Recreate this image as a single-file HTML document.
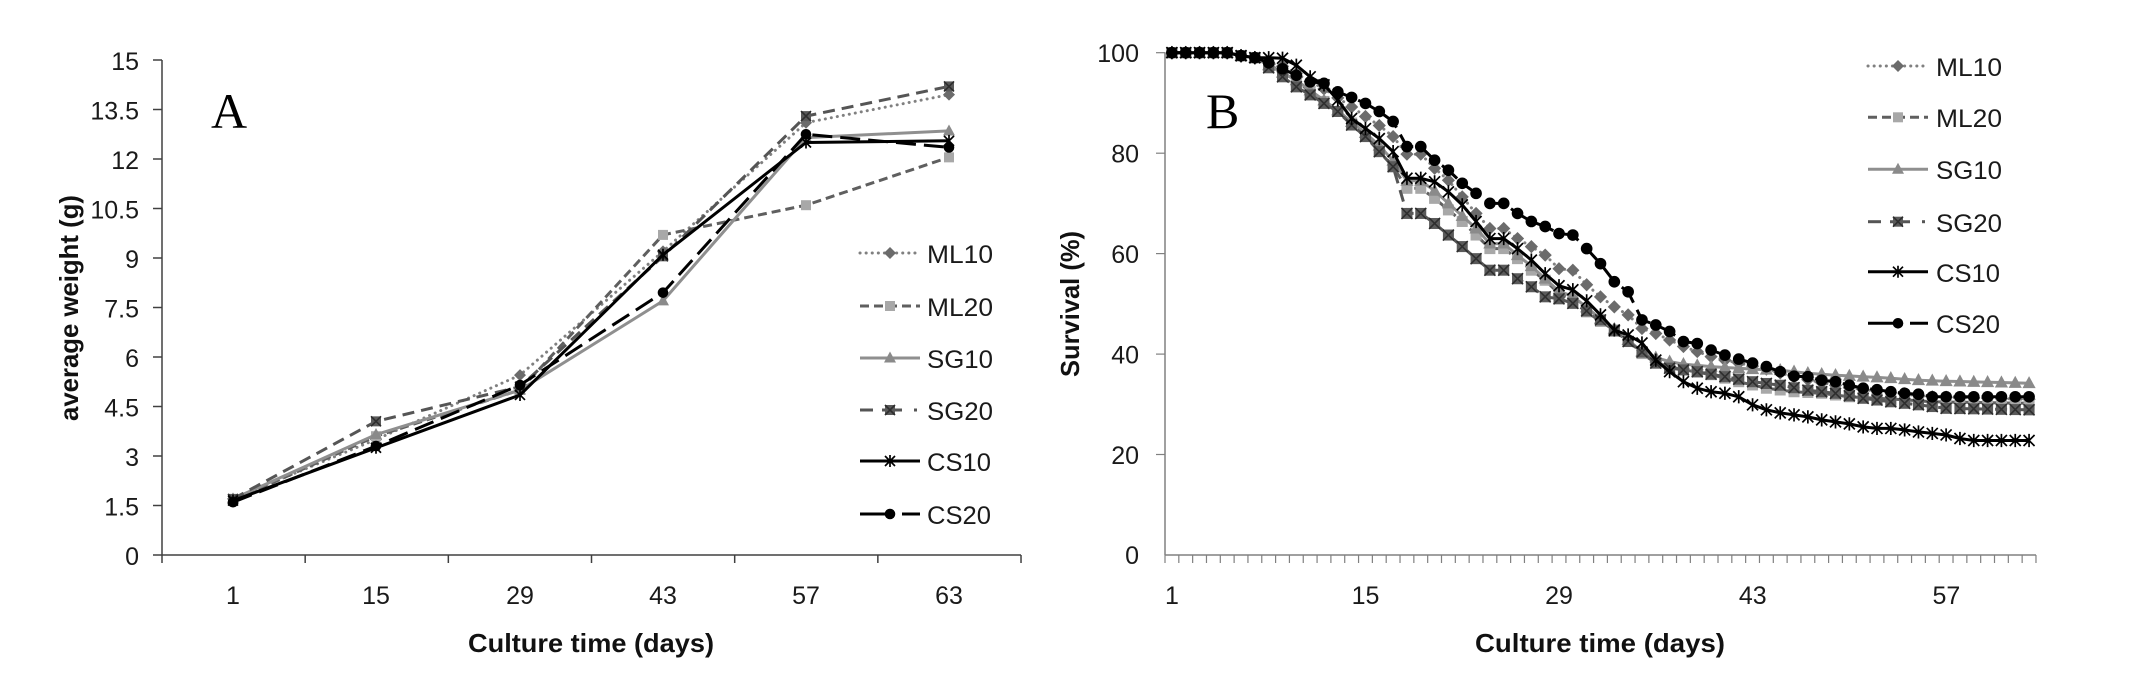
<!DOCTYPE html>
<html>
<head>
<meta charset="utf-8">
<style>
  html,body{margin:0;padding:0;background:#fff;}
  svg{display:block;}
  text{font-family:"Liberation Sans",Arial,sans-serif;fill:#1a1a1a;}
  .tk{font-size:25px;}
  .ttl{font-size:26px;font-weight:bold;fill:#111;}
  .lg{font-size:25px;}
  .big{font-family:"Liberation Serif","Times New Roman",serif;font-size:50px;fill:#000;}
</style>
</head>
<body>
<svg id="svg" width="2132" height="681" viewBox="0 0 2132 681" xmlns="http://www.w3.org/2000/svg">
  <rect x="0" y="0" width="2132" height="681" fill="#fff"/>

  <!-- ================= CHART A ================= -->
  <g id="axA" stroke="#404040" stroke-width="1.5" fill="none">
    <line x1="162" y1="60" x2="162" y2="555"/>
    <line x1="162" y1="555" x2="1021" y2="555"/>
  </g>
  <g id="ticksA" stroke="#404040" stroke-width="1.5"></g>
  <g class="tk" text-anchor="end">
    <text x="139" y="70">15</text>
    <text x="139" y="119.5">13.5</text>
    <text x="139" y="169">12</text>
    <text x="139" y="218.5">10.5</text>
    <text x="139" y="268">9</text>
    <text x="139" y="317.5">7.5</text>
    <text x="139" y="367">6</text>
    <text x="139" y="416.5">4.5</text>
    <text x="139" y="466">3</text>
    <text x="139" y="515.5">1.5</text>
    <text x="139" y="565">0</text>
  </g>
  <g class="tk" text-anchor="middle">
    <text x="233" y="604">1</text>
    <text x="376" y="604">15</text>
    <text x="520" y="604">29</text>
    <text x="663" y="604">43</text>
    <text x="806" y="604">57</text>
    <text x="949" y="604">63</text>
  </g>
  <text class="ttl" x="591" y="652" text-anchor="middle" textLength="246" lengthAdjust="spacingAndGlyphs">Culture time (days)</text>
  <text class="ttl" transform="translate(78,308) rotate(-90)" x="0" y="0" text-anchor="middle" textLength="226" lengthAdjust="spacingAndGlyphs">average weight (g)</text>
  <text class="big" x="211" y="128">A</text>
  <g id="seriesA"></g>
  <g id="legA"></g>
  <g class="lg">
    <text x="927" y="263" textLength="66" lengthAdjust="spacingAndGlyphs">ML10</text>
    <text x="927" y="316" textLength="66" lengthAdjust="spacingAndGlyphs">ML20</text>
    <text x="927" y="368" textLength="66" lengthAdjust="spacingAndGlyphs">SG10</text>
    <text x="927" y="420" textLength="66" lengthAdjust="spacingAndGlyphs">SG20</text>
    <text x="927" y="471" textLength="64" lengthAdjust="spacingAndGlyphs">CS10</text>
    <text x="927" y="524" textLength="64" lengthAdjust="spacingAndGlyphs">CS20</text>
  </g>

  <!-- ================= CHART B ================= -->
  <g stroke="#808080" stroke-width="1.5" fill="none">
    <line x1="1165" y1="52.7" x2="1165" y2="555"/>
    <line x1="1165" y1="555" x2="2036" y2="555"/>
  </g>
  <g id="ticksB" stroke="#808080" stroke-width="1.2"></g>
  <g class="tk" text-anchor="end">
    <text x="1139" y="62">100</text>
    <text x="1139" y="162.5">80</text>
    <text x="1139" y="263">60</text>
    <text x="1139" y="363.5">40</text>
    <text x="1139" y="464">20</text>
    <text x="1139" y="564">0</text>
  </g>
  <g class="tk" text-anchor="middle">
    <text x="1172" y="604">1</text>
    <text x="1365.5" y="604">15</text>
    <text x="1559" y="604">29</text>
    <text x="1752.8" y="604">43</text>
    <text x="1946.4" y="604">57</text>
  </g>
  <text class="ttl" x="1600" y="652" text-anchor="middle" textLength="250" lengthAdjust="spacingAndGlyphs">Culture time (days)</text>
  <text class="ttl" transform="translate(1079,304) rotate(-90)" x="0" y="0" text-anchor="middle" textLength="146" lengthAdjust="spacingAndGlyphs">Survival (%)</text>
  <text class="big" x="1206" y="128">B</text>
  <g id="seriesB"></g>
  <g id="legB"></g>
  <g class="lg">
    <text x="1936" y="76" textLength="66" lengthAdjust="spacingAndGlyphs">ML10</text>
    <text x="1936" y="127" textLength="66" lengthAdjust="spacingAndGlyphs">ML20</text>
    <text x="1936" y="179" textLength="66" lengthAdjust="spacingAndGlyphs">SG10</text>
    <text x="1936" y="232" textLength="66" lengthAdjust="spacingAndGlyphs">SG20</text>
    <text x="1936" y="282" textLength="64" lengthAdjust="spacingAndGlyphs">CS10</text>
    <text x="1936" y="333" textLength="64" lengthAdjust="spacingAndGlyphs">CS20</text>
  </g>
</svg>

<script>
(function(){
  var NS='http://www.w3.org/2000/svg';
  function el(p,t,a){var e=document.createElementNS(NS,t);for(var k in a)e.setAttribute(k,a[k]);p.appendChild(e);return e;}

  var STY={
    ML10:{line:'#808080',dash:'0.1 6',cap:'round',mk:'diamond',fill:'#6b6b6b',w:3},
    ML20:{line:'#5f5f5f',dash:'9 5',cap:'butt',mk:'square',fill:'#a8a8a8',w:3},
    SG10:{line:'#8f8f8f',dash:'',cap:'butt',mk:'tri',fill:'#8a8a8a',w:3},
    SG20:{line:'#555555',dash:'12 7',cap:'butt',mk:'xsq',fill:'#5a5a5a',w:3},
    CS10:{line:'#000000',dash:'',cap:'butt',mk:'star',fill:'#000',w:3},
    CS20:{line:'#000000',dash:'20 8',cap:'butt',mk:'circle',fill:'#000',w:3}
  };
  var ORDER=['ML10','ML20','SG10','SG20','CS10','CS20'];

  function marker(g,type,x,y,fill,s){
    s=s||1;
    if(type==='diamond'){el(g,'polygon',{points:(x)+','+(y-6*s)+' '+(x+6*s)+','+y+' '+x+','+(y+6*s)+' '+(x-6*s)+','+y,fill:fill});}
    else if(type==='square'){el(g,'rect',{x:x-5*s,y:y-5*s,width:10*s,height:10*s,fill:fill});}
    else if(type==='tri'){el(g,'polygon',{points:x+','+(y-6.5*s)+' '+(x+6*s)+','+(y+4.5*s)+' '+(x-6*s)+','+(y+4.5*s),fill:fill});}
    else if(type==='xsq'){el(g,'rect',{x:x-5*s,y:y-5*s,width:10*s,height:10*s,fill:fill});
      el(g,'path',{d:'M'+(x-5*s)+' '+(y-5*s)+'L'+(x+5*s)+' '+(y+5*s)+'M'+(x-5*s)+' '+(y+5*s)+'L'+(x+5*s)+' '+(y-5*s),stroke:'#2e2e2e','stroke-width':1.6,fill:'none'});}
    else if(type==='star'){el(g,'path',{d:'M'+x+' '+(y-6*s)+'L'+x+' '+(y+6*s)+'M'+(x-5*s)+' '+(y-5*s)+'L'+(x+5*s)+' '+(y+5*s)+'M'+(x-5*s)+' '+(y+5*s)+'L'+(x+5*s)+' '+(y-5*s),stroke:'#000','stroke-width':1.7,fill:'none'});}
    else if(type==='circle'){el(g,'circle',{cx:x,cy:y,r:5.3*s,fill:fill});}
  }
  function drawSeries(g,name,pts,w,ms){
    var st=STY[name];
    var d=pts.map(function(p,i){return (i?'L':'M')+p[0].toFixed(1)+' '+p[1].toFixed(1);}).join('');
    var a={d:d,fill:'none',stroke:st.line,'stroke-width':w||st.w,'stroke-linecap':st.cap,'stroke-linejoin':'round'};
    if(st.dash)a['stroke-dasharray']=st.dash;
    el(g,'path',a);
    pts.forEach(function(p){marker(g,st.mk,p[0],p[1],st.fill,ms||1);});
  }
  function legend(g,name,x0,x1,y){
    var st=STY[name],mid=(x0+x1)/2;
    if(name==='SG20'){
      el(g,'line',{x1:x0,y1:y,x2:x0+13,y2:y,stroke:st.line,'stroke-width':3});
      el(g,'line',{x1:mid-8,y1:y,x2:mid+12,y2:y,stroke:st.line,'stroke-width':3});
      el(g,'line',{x1:x1-6,y1:y,x2:x1-3,y2:y,stroke:st.line,'stroke-width':3});
    } else if(name==='CS20'){
      el(g,'line',{x1:x0,y1:y,x2:mid,y2:y,stroke:st.line,'stroke-width':3});
      el(g,'line',{x1:mid+12,y1:y,x2:x1,y2:y,stroke:st.line,'stroke-width':3});
    } else {
      var a={x1:x0,y1:y,x2:x1,y2:y,stroke:st.line,'stroke-width':3,'stroke-linecap':st.cap};
      if(st.dash)a['stroke-dasharray']=st.dash;
      if(name==='ML20'){a['stroke-dasharray']='9 5';}
      el(g,'line',a);
    }
    marker(g,st.mk,mid,y,st.fill);
  }

  /* ---------- Chart A ---------- */
  var tA=document.getElementById('ticksA');
  [60,109.5,159,208.5,258,307.5,357,406.5,456,505.5,555].forEach(function(y){el(tA,'line',{x1:153,y1:y,x2:162,y2:y});});
  for(var k=0;k<=6;k++){var x=162+k*143.17;el(tA,'line',{x1:x,y1:555,x2:x,y2:563});}
  var xsA=[233,376,520,663,806,949];
  var dataA={
    ML10:[1.7,3.5,5.45,9.2,13.1,13.95],
    ML20:[1.65,3.6,5.0,9.7,10.6,12.05],
    SG10:[1.7,3.65,5.0,7.7,12.65,12.85],
    SG20:[1.7,4.05,5.1,9.05,13.3,14.2],
    CS10:[1.65,3.25,4.85,9.1,12.5,12.55],
    CS20:[1.6,3.3,5.15,7.95,12.75,12.35]
  };
  var gA=document.getElementById('seriesA');
  ORDER.forEach(function(n){
    drawSeries(gA,n,dataA[n].map(function(v,i){return [xsA[i],555-v*33];}));
  });
  var lA=document.getElementById('legA');
  [253,306,358,410,461,514].forEach(function(y,i){legend(lA,ORDER[i],860,920,y);});

  /* ---------- Chart B ---------- */
  var tB=document.getElementById('ticksB');
  [52.7,153.2,253.6,354.1,454.5].forEach(function(y){el(tB,'line',{x1:1156,y1:y,x2:1165,y2:y});});
  for(var j=0;j<=63;j++){var xb=1165+j*13.825;el(tB,'line',{x1:xb,y1:555,x2:xb,y2:563});}

  var start={1:100,2:100,3:100,4:100,5:100,6:99.4,7:99};
  function mk(obj){var o={};for(var k in start)o[k]=start[k];for(var k2 in obj)o[k2]=obj[k2];return o;}
  var keyB={
    ML10:mk({8:98,9:97.3,10:95.8,11:94.3,12:92.8,13:91,14:89.2,15:87.3,16:85.5,17:83.3,18:79.8,19:79.8,20:77,21:74.6,22:71.3,23:68,24:65,25:65,26:63,27:61.4,28:59.7,29:57,30:56.7,31:53.8,32:51.4,33:49.4,34:47.8,35:45.1,36:44.1,37:42.8,38:41.5,39:40.5,40:39.5,41:38.8,42:38.2,44:37,46:35.5,48:34.3,50:33.3,52:32.6,54:32,56:31.5,63:31}),
    ML20:mk({8:97.5,9:96.3,10:94.3,11:92.3,12:90.3,13:88.3,14:86,15:83.5,16:80.5,17:77.3,18:73,19:73,20:71,21:68.7,22:66.4,23:63.7,24:61,25:61,26:59,27:56.7,28:54.7,29:52,30:50.8,31:48.4,32:46.5,33:44.8,34:42.5,35:40.1,36:38.2,37:37.5,38:36.9,40:35.9,42:34.5,44:33.2,46:32.5,48:32.2,50:31.5,52:31.2,54:30.9,56:30.5,63:30.2}),
    SG10:mk({8:97.5,9:96,10:94.5,11:92.5,12:90.5,13:88.5,14:86.2,15:84,16:81.5,17:78.5,18:74.5,19:74.5,20:72.5,21:70,22:67.5,23:65,24:62,25:62,26:59.7,27:57.5,28:55,29:52.5,30:51.5,31:49.3,32:47,33:45,34:42.8,35:40.5,36:39.3,37:38.5,38:38,40:37.5,43:37,45:36.8,47:36.2,49:35.8,51:35.5,53:35.2,55:34.8,57:34.6,63:34.2}),
    SG20:mk({8:97,9:95.2,10:93.2,11:91.6,12:89.9,13:88.3,14:85.6,15:83.3,16:80.3,17:77.3,18:68,19:68,20:66,21:63.7,22:61.4,23:59,24:56.7,25:56.7,26:55,27:53.4,28:51.4,29:51,30:50.1,31:48.6,32:46.8,33:44.6,34:42.5,35:40.4,36:38.2,37:37.2,39:36.5,41:35.5,43:34.5,45:33.8,47:32.8,49:32.2,51:31.2,53:30.5,55:29.9,57:29.2,63:28.9}),
    CS10:mk({8:99,9:98.9,10:97.5,11:95.2,12:93.6,13:90.6,14:86.9,15:84.9,16:82.9,17:80.3,18:75,19:75,20:74.3,21:72.3,22:69.7,23:66.4,24:63,25:63,26:61,27:58.7,28:56,29:53.6,30:52.8,31:50.6,32:47.8,33:44.8,34:43.8,35:42.2,36:38.8,37:36.5,38:34.5,39:33.2,40:32.5,41:32.2,42:31.5,43:29.9,44:28.9,45:28.3,46:27.9,47:27.5,48:26.9,49:26.5,50:26.1,51:25.5,52:25.2,53:25.2,54:24.9,55:24.5,56:24.2,57:23.9,58:23.2,59:22.8,63:22.8}),
    CS20:mk({8:98,9:96.8,10:95.5,11:94.2,12:93.9,13:92.2,14:91.1,15:89.9,16:88.3,17:86.3,18:81.3,19:81.3,20:78.6,21:76.6,22:74,23:72,24:70,25:70,26:68,27:66.4,28:65.4,29:64,30:63.7,31:61,32:58,33:54.4,34:52.4,35:46.8,36:45.8,37:44.5,38:42.5,39:42.1,40:40.8,41:39.8,42:39,43:38.2,44:37.5,45:36.5,46:35.6,47:35.5,48:34.8,49:34.5,50:33.8,51:33.2,52:32.9,53:32.5,54:32.2,55:32,56:31.5,63:31.5})
  };
  function interp(key){
    var ds=Object.keys(key).map(Number).sort(function(a,b){return a-b;});
    var out=[];
    for(var d=1;d<=63;d++){
      var v;
      if(key[d]!==undefined)v=key[d];
      else{
        var a=ds[0],b=ds[ds.length-1];
        for(var i=0;i<ds.length-1;i++){if(ds[i]<d&&ds[i+1]>d){a=ds[i];b=ds[i+1];break;}}
        v=key[a]+(key[b]-key[a])*(d-a)/(b-a);
      }
      out.push([1165+13.825*(d-0.5),555-v*5.023]);
    }
    return out;
  }
  var gB=document.getElementById('seriesB');
  ORDER.forEach(function(n){drawSeries(gB,n,interp(keyB[n]),3,1.1);});
  var lB=document.getElementById('legB');
  [66,117.3,169.3,221.7,271.7,323.3].forEach(function(y,i){legend(lB,ORDER[i],1868,1928,y);});
})();
</script>
</body>
</html>
